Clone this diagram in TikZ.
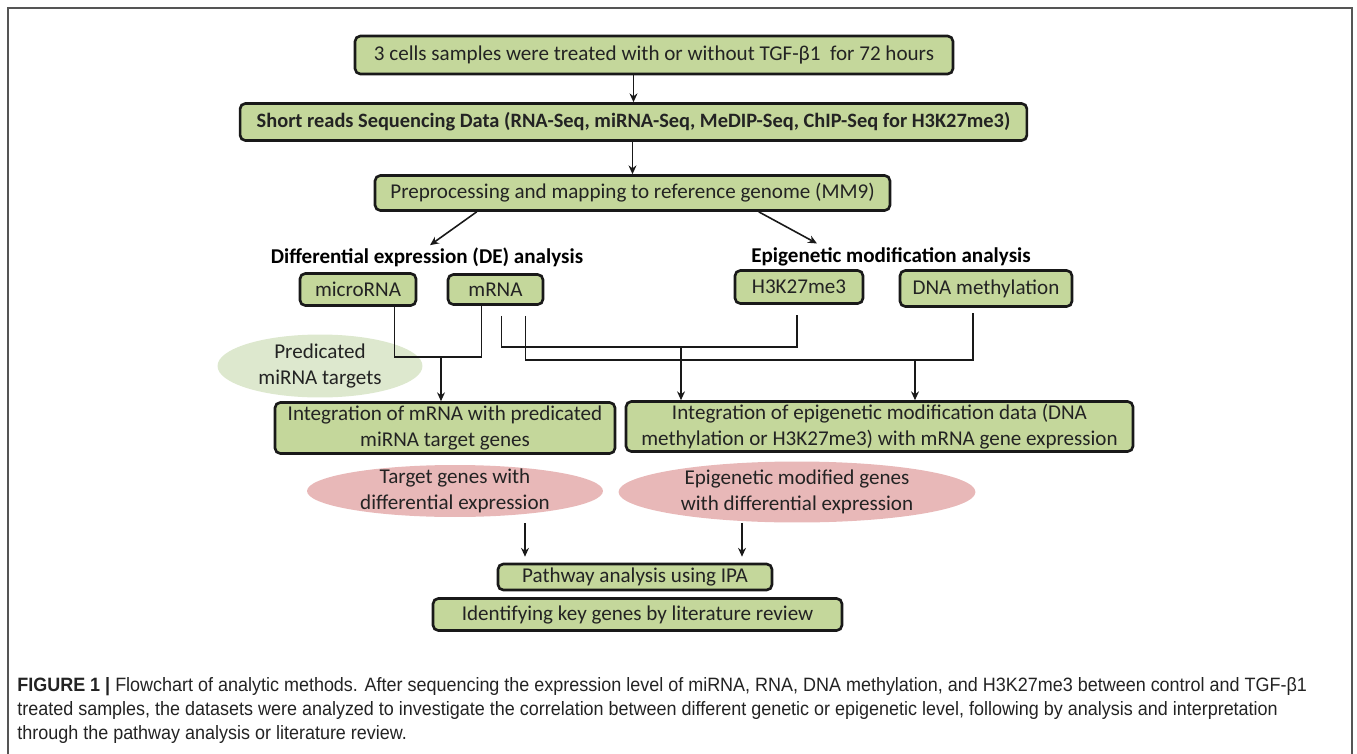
\documentclass[tikz,border=0pt]{standalone}
\usepackage{fontspec}
\setmainfont{Carlito}
\newfontfamily\capfont[FakeStretch=0.93]{Liberation Sans}
\usetikzlibrary{shapes.geometric, arrows.meta, positioning, calc}
\definecolor{darkGray}{RGB}{25,25,25}
\definecolor{textGray}{RGB}{35,35,35}
\definecolor{frameGray}{RGB}{85,85,85}
\definecolor{boxGreen}{RGB}{196,215,155}
\definecolor{paleGreen}{RGB}{221,232,206}
\definecolor{palePink}{RGB}{232,184,184}

\begin{document}
\begin{tikzpicture}[
  x=0.02cm, y=-0.02cm,
  stepbox/.style={rectangle, rounded corners=3pt, draw=darkGray, fill=boxGreen, line width=1.5pt, align=center, text=textGray, font=\fontsize{12}{14.4}\selectfont, inner sep=0pt},
  headbox/.style={stepbox, font=\fontsize{11.6}{14}\selectfont\bfseries},
  heading/.style={inner sep=0pt, text=black, font=\fontsize{12}{14}\selectfont\bfseries},
  blob/.style={ellipse, draw=none, inner sep=0pt},
  blobtext/.style={align=center, text=textGray, font=\fontsize{12}{14.4}\selectfont},
  arrow/.style={line width=0.9pt, ->, >={Stealth[length=5pt, width=4.5pt]}, darkGray},
  link/.style={line width=0.9pt, darkGray},
  captext/.style={anchor=base west, inner sep=0pt, text=textGray, font=\capfont\fontsize{11}{13.6}\selectfont}
]
\useasboundingbox (0,0) rectangle (1357,754);

% Frame
\draw [frameGray, line width=1.1pt] (8,760) -- (8,8) -- (1352,8) -- (1352,760);

% Nodes
\node (samples) [stepbox, minimum width=11.96cm, minimum height=0.76cm] at (654,55) {3 cells samples were treated with or without TGF-β1\ \ for 72 hours};
\node (reads) [headbox, minimum width=15.74cm, minimum height=0.74cm] at (633.5,122) {Short reads Sequencing Data (RNA-Seq, miRNA-Seq, MeDIP-Seq, ChIP-Seq for H3K27me3)};
\node (preproc) [stepbox, minimum width=10.3cm, minimum height=0.7cm] at (632.5,193) {Preprocessing and mapping to reference genome (MM9)};

\node (deLabel) [heading] at (427,257) {Differential expression (DE) analysis};
\node (epiLabel) [heading] at (891,257) {Epigenetic modification analysis};

\node (micro) [stepbox, minimum width=2.32cm, minimum height=0.64cm] at (358,289.5) {microRNA};
\node (mrna) [stepbox, minimum width=1.9cm, minimum height=0.6cm] at (495.5,289.5) {mRNA};
\node (h3k) [stepbox, minimum width=2.56cm, minimum height=0.66cm] at (799,287) {H3K27me3};
\node (dnam) [stepbox, minimum width=3.44cm, minimum height=0.72cm] at (986,288.5) {DNA methylation};

\node (predicted) [blob, fill=paleGreen, minimum width=4.1cm, minimum height=1.26cm] at (320,366) {};
\node [blobtext] at (predicted) {Predicated\\miRNA targets};

\node (integA) [stepbox, minimum width=6.8cm, minimum height=1.02cm] at (445,428) {Integration of mRNA with predicated\\miRNA target genes};
\node (integB) [stepbox, minimum width=10.14cm, minimum height=1.0cm] at (879.5,426.5) {Integration of epigenetic modification data (DNA\\methylation or H3K27me3) with mRNA gene expression};

\node (targets) [blob, fill=palePink, minimum width=5.92cm, minimum height=1.04cm] at (455,491) {};
\node [blobtext] at (targets) {Target genes with\\differential expression};
\node (epiGenes) [blob, fill=palePink, minimum width=7.14cm, minimum height=1.22cm] at (797,492) {};
\node [blobtext] at (epiGenes) {Epigenetic modified genes\\with differential expression};

\node (pathway) [stepbox, minimum width=5.48cm, minimum height=0.52cm] at (635,577) {Pathway analysis using IPA};
\node (review) [stepbox, minimum width=8.18cm, minimum height=0.64cm] at (637.5,614.5) {Identifying key genes by literature review};

% Junctions
\coordinate (joinA) at (441,357);
\coordinate (joinB) at (681,347);
\coordinate (joinC) at (915,360);

% Arrows
\draw [arrow] (samples.south -| reads.north) -- (reads.north);
\draw [arrow] (reads.south -| preproc.north) -- (preproc.north);
\draw [arrow] ($(preproc.south west)+(103,0)$) -- ($(deLabel.north)+(3,-2)$);
\draw [arrow] ($(preproc.south west)+(385,0)$) -- ($(epiLabel.north west)+(66,-4)$);

\draw [link] ($(micro.south east)+(-23,0)$) |- (joinA) -| ($(mrna.south west)+(35,0)$);
\draw [arrow] (joinA) -- (joinA |- integA.north);

\draw [link] ($(mrna.south east)+(-43,10)$) |- (joinB) -| ($(h3k.south)+(-2,10)$);
\draw [link] ($(mrna.south east)+(-19,10)$) |- (joinC) -| ($(dnam.south)+(-13,5)$);
\draw [arrow] (joinB) -- (joinB |- integB.north);
\draw [arrow] (joinC) -- (joinC |- integB.north);

\draw [arrow] ($(targets.south)+(70,6)$) -- ($(targets.south |- pathway.north)+(70,-6)$);
\draw [arrow] ($(epiGenes.south)+(-55,0)$) -- ($(epiGenes.south |- pathway.north)+(-55,-6)$);

% Caption
\node (cap1) [captext] at (17,691) {\textbf{FIGURE 1 |} Flowchart of analytic methods. After sequencing the expression level of miRNA, RNA, DNA methylation, and H3K27me3 between control and TGF-β1};
\node (cap2) [captext] at (17,715) {treated samples, the datasets were analyzed to investigate the correlation between different genetic or epigenetic level, following by analysis and interpretation};
\node (cap3) [captext] at (17,739) {through the pathway analysis or literature review.};

\end{tikzpicture}
\end{document}
